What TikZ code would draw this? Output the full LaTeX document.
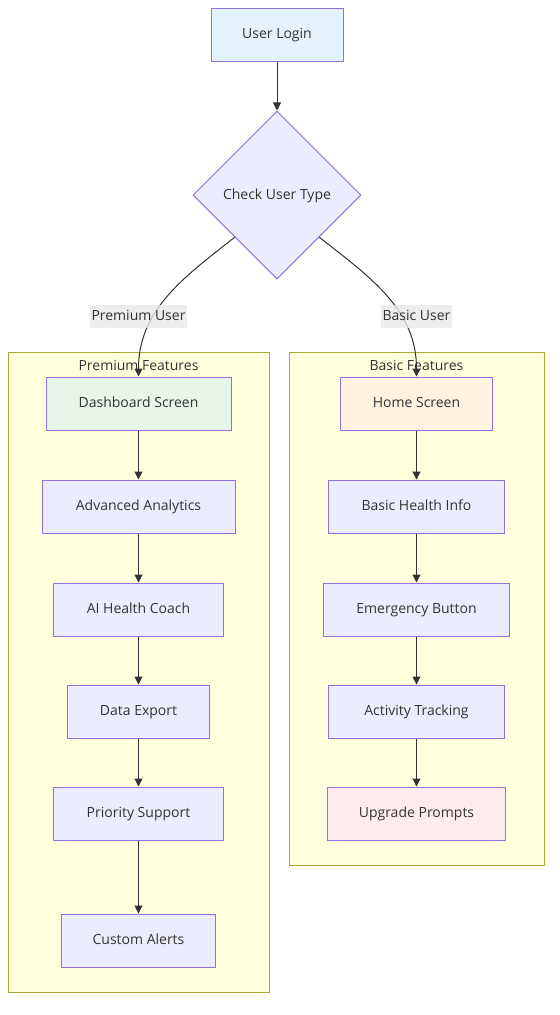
\documentclass[tikz,border=0pt]{standalone}
\usepackage{fontspec}
\setmainfont{Open Sans}
\usetikzlibrary{shapes.geometric,arrows.meta}
\newcommand{\pxu}{0.75pt}
\definecolor{nodefill}{HTML}{ECECFF}
\definecolor{nodeline}{HTML}{9370DB}
\definecolor{groupfill}{HTML}{FFFFDE}
\definecolor{groupline}{HTML}{AAAA33}
\definecolor{loginfill}{HTML}{E3F2FD}
\definecolor{dashfill}{HTML}{E8F5E9}
\definecolor{homefill}{HTML}{FFF3E0}
\definecolor{upgradefill}{HTML}{FFEBEE}
\definecolor{inkcol}{HTML}{333333}
\definecolor{labelbg}{HTML}{E8E8E8}
\tikzset{
	box/.style={draw=nodeline, fill=nodefill, text=inkcol, line width=\pxu, minimum height=53*\pxu, inner sep=0pt, text height=1.6ex, text depth=0.45ex},
	group/.style={draw=groupline, fill=groupfill, line width=\pxu, inner sep=0pt},
	arr/.style={-{Triangle[length=6pt,width=6pt]}, draw=inkcol, line width=\pxu},
	elabel/.style={fill=labelbg, fill opacity=0.8, text opacity=1, text=inkcol, inner sep=1pt, minimum height=23*\pxu, text height=1.6ex, text depth=0.45ex}
}

\begin{document}
\begin{tikzpicture}[x=\pxu, y=-\pxu, font=\fontsize{10.5}{12}\selectfont]
				\useasboundingbox (0, 0) rectangle (560, 1015);
				% subgraphs
				\node[group, minimum width=261*\pxu, minimum height=640*\pxu] (premium) at (138.5, 672) {};
				\node[group, minimum width=255*\pxu, minimum height=513*\pxu] (basic) at (416.5, 608.5) {};
				\node[text=inkcol] (premiumtitle) at (138.5, 365.5) {Premium Features};
				\node[text=inkcol] (basictitle) at (416.5, 365.5) {Basic Features};

				\node[box, fill=loginfill, minimum width=132*\pxu] (login) at (277, 34.5) {User Login};
				\node[box, diamond, aspect=1, minimum width=168*\pxu, minimum height=168*\pxu] (check) at (277, 195) {Check User Type};

				\node[box, fill=dashfill, minimum width=185*\pxu] (dash) at (138.5, 403.5) {Dashboard Screen};
				\node[box, minimum width=193*\pxu] (analytics) at (138.5, 506.5) {Advanced Analytics};
				\node[box, minimum width=170*\pxu] (coach) at (138.5, 609.5) {AI Health Coach};
				\node[box, minimum width=142*\pxu] (export) at (138.5, 711.5) {Data Export};
				\node[box, minimum width=170*\pxu] (support) at (138.5, 813.5) {Priority Support};
				\node[box, minimum width=154*\pxu] (alerts) at (138.5, 940.5) {Custom Alerts};

				\node[box, fill=homefill, minimum width=152*\pxu] (home) at (416.5, 403.5) {Home Screen};
				\node[box, minimum width=176*\pxu] (healthinfo) at (416.5, 506.5) {Basic Health Info};
				\node[box, minimum width=186*\pxu] (emergency) at (416.5, 609.5) {Emergency Button};
				\node[box, minimum width=176*\pxu] (tracking) at (416.5, 711.5) {Activity Tracking};
				\node[box, fill=upgradefill, minimum width=178*\pxu] (upgrade) at (416.5, 813.5) {Upgrade Prompts};

				\draw[arr] (login) to (check);
				\draw[arr] (check.south west) to[out=218, in=90] (dash.north);
				\draw[arr] (check.south east) to[out=-38, in=90] (home.north);

				\node[elabel] (premiumlabel) at (138.5, 316.5) {Premium User};
				\node[elabel] (basiclabel) at (416.5, 316.5) {Basic User};

				\draw[arr] (dash) to (analytics);
				\draw[arr] (analytics) to (coach);
				\draw[arr] (coach) to (export);
				\draw[arr] (export) to (support);
				\draw[arr] (support) to (alerts);

				\draw[arr] (home) to (healthinfo);
				\draw[arr] (healthinfo) to (emergency);
				\draw[arr] (emergency) to (tracking);
				\draw[arr] (tracking) to (upgrade);
			\end{tikzpicture}
\end{document}
